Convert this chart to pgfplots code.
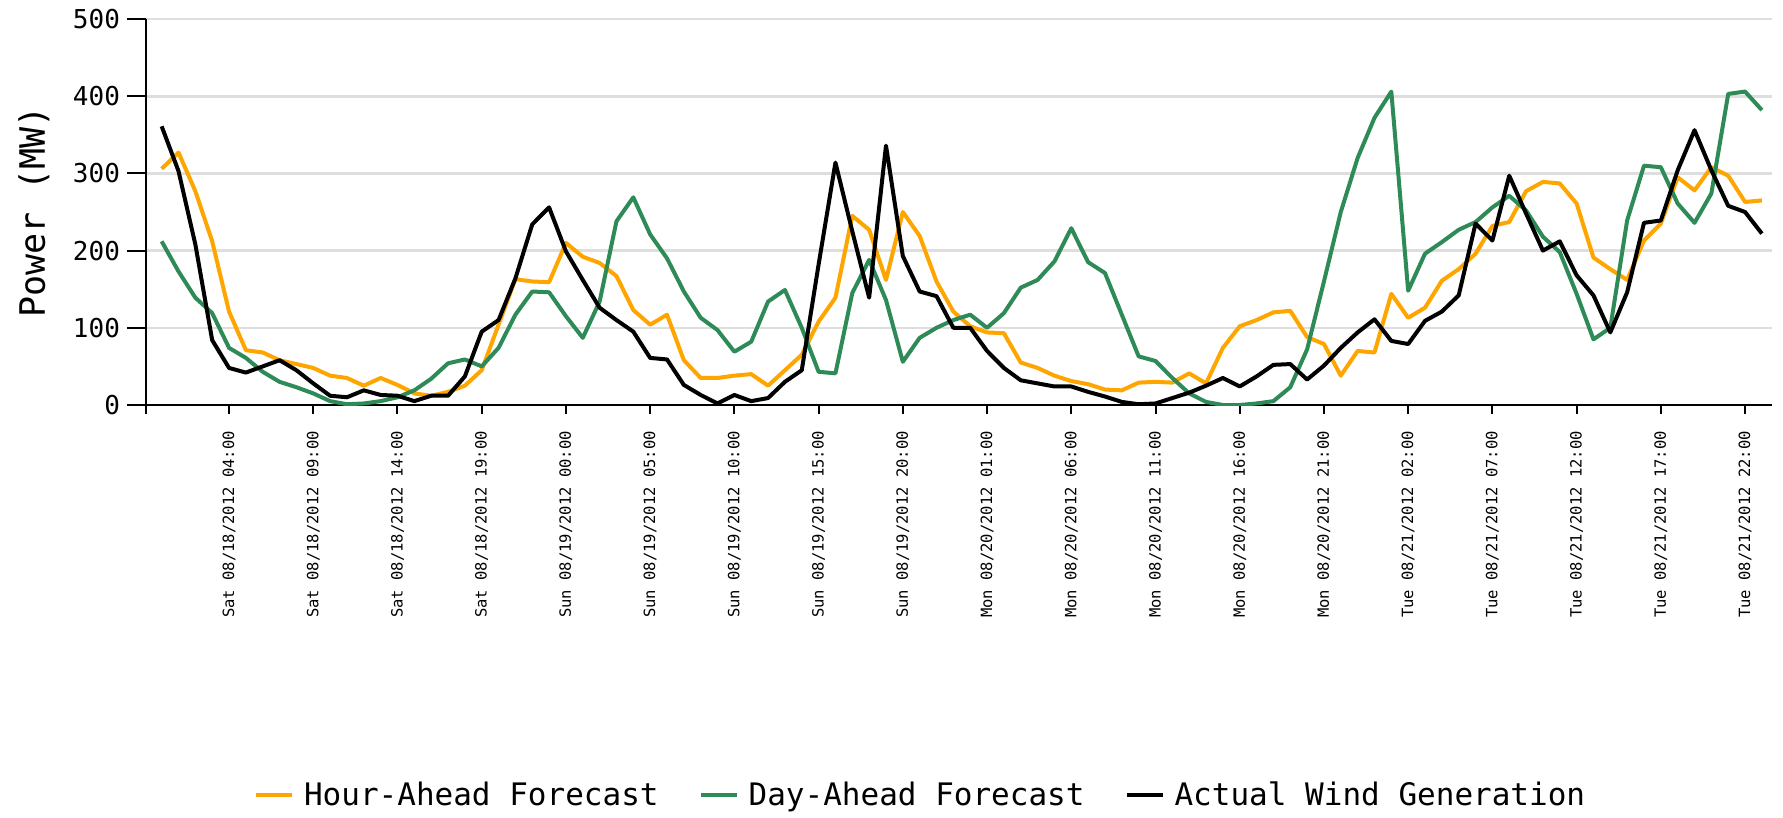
\documentclass[border=0pt]{standalone}
\usepackage{fontspec}
\setmainfont{DejaVu Sans Mono}
\usepackage{pgfplots}
\usepackage{pgfplotstable}
\pgfplotsset{compat=1.18}

\definecolor{hourahead}{HTML}{FFA500}
\definecolor{dayahead}{HTML}{2E8B57}
\definecolor{gridgray}{HTML}{DEDEDE}

% hours from Sat 08/18/2012 00:00; hour-ahead, day-ahead, actual (MW)
\pgfplotstableread{
h  ha  da  act
0  306 212 361
1  327 173 303
2  277 139 208
3  212 119 84
4  121 74  48
5  71  61  42
6  68  43  50
7  58  30  58
8  53  23  45
9  48  15  28
10 38  5   12
11 35  1   10
12 25  2   19
13 35  5   13
14 26  10  12
15 15  19  5
16 12  34  12
17 17  54  12
18 25  59  37
19 45  50  95
20 104 74  110
21 163 117 164
22 160 147 234
23 159 146 256
24 210 115 199
25 192 87  162
26 184 134 126
27 167 238 110
28 123 269 95
29 104 221 61
30 117 190 59
31 58  147 26
32 35  113 13
33 35  97  2
34 38  69  13
35 40  82  5
36 25  134 9
37 45  149 30
38 65  100 45
39 108 43  182
40 139 41  314
41 245 145 225
42 227 188 139
43 162 136 336
44 250 56  193
45 219 87  147
46 160 100 141
47 121 110 100
48 102 117 100
49 94  100 70
50 93  119 48
51 55  152 32
52 48  162 28
53 38  186 24
54 31  229 24
55 27  185 17
56 20  171 11
57 19  117 4
58 29  63  1
59 30  57  2
60 29  35  9
61 41  15  16
62 28  4   25
63 74  0   35
64 102 0   24
65 110 2   37
66 120 5   52
67 122 23  53
68 88  72  33
69 79  160 51
70 38  250 74
71 70  320 94
72 68  372 111
73 144 406 83
74 113 148 79
75 126 196 109
76 161 211 121
77 176 227 142
78 196 237 235
79 232 256 213
80 237 271 297
81 277 252 248
82 289 218 200
83 287 198 212
84 261 144 168
85 191 85  142
86 176 100 94
87 162 239 146
88 213 310 236
89 235 308 239
90 295 261 304
91 278 236 356
92 308 274 304
93 297 403 258
94 263 406 250
95 265 382 222
}\windtable

\begin{document}
\begin{tikzpicture}
\begin{axis}[
    name=main,
    scale only axis,
    width=813pt, height=193pt,
    xmin=-0.93, xmax=95.6,
    ymin=0, ymax=500,
    axis lines*=left,
    axis line style={black, line width=1pt},
    tick align=outside,
    major tick length=9.5pt,
    tick style={black, line width=1pt},
    xtick style={/pgfplots/major tick length=4.5pt},
    ytick={0,100,200,300,400,500},
    ymajorgrids,
    major grid style={gridgray, line width=1.3pt},
    xtick={-0.93,4,9,14,19,24,29,34,39,44,49,54,59,64,69,74,79,84,89,94},
    xticklabels={,
      Sat 08/18/2012 04:00, Sat 08/18/2012 09:00, Sat 08/18/2012 14:00, Sat 08/18/2012 19:00,
      Sun 08/19/2012 00:00, Sun 08/19/2012 05:00, Sun 08/19/2012 10:00, Sun 08/19/2012 15:00,
      Sun 08/19/2012 20:00, Mon 08/20/2012 01:00, Mon 08/20/2012 06:00, Mon 08/20/2012 11:00,
      Mon 08/20/2012 16:00, Mon 08/20/2012 21:00, Tue 08/21/2012 02:00, Tue 08/21/2012 07:00,
      Tue 08/21/2012 12:00, Tue 08/21/2012 17:00, Tue 08/21/2012 22:00},
    xticklabel style={rotate=90, anchor=east, font=\fontsize{7.75}{9}\selectfont},
    yticklabel style={font=\fontsize{13}{15}\selectfont},
    /pgf/number format/assume math mode=true,
    ylabel={Power (MW)},
    ylabel style={at={(axis description cs:-0.0689,0.5)}, anchor=center,
      font=\fontsize{17.5}{20}\selectfont},
    legend style={at={(0.477,-1.01)}, anchor=center, draw=none, fill=none,
      legend columns=-1, font=\fontsize{15.5}{18}\selectfont,
      /tikz/every even column/.append style={column sep=18pt}},
    legend image code/.code={\draw[#1] (0pt,0pt) -- (18pt,0pt); \path (21pt,0pt);},
    every axis plot/.append style={line width=2pt, line join=round, no markers},
]
\addplot[hourahead] table[x=h, y=ha] {\windtable};
\addplot[dayahead] table[x=h, y=da] {\windtable};
\addplot[black] table[x=h, y=act] {\windtable};
\legend{Hour-Ahead Forecast, Day-Ahead Forecast, Actual Wind Generation}
\end{axis}
\pgfresetboundingbox
\path[use as bounding box] ([xshift=-73pt,yshift=-206.5pt]main.south west)
  rectangle ([xshift=5.5pt,yshift=9.5pt]main.north east);
\end{tikzpicture}
\end{document}
